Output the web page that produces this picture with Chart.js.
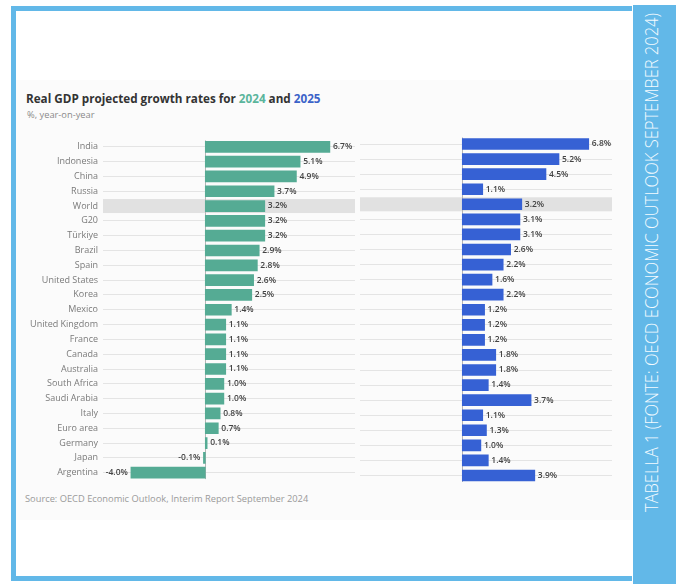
<!DOCTYPE html>
<html>
<head>
<meta charset="utf-8">
<script src="https://cdn.jsdelivr.net/npm/chart.js@4.4.1/dist/chart.umd.min.js"></script>
<style>
  html, body { margin:0; padding:0; background:#fff; }
  body { width:678px; height:585px; position:relative; overflow:hidden; font-family:"Open Sans", sans-serif; }
  #frame { position:absolute; left:11px; top:6px; width:616px; height:565px; border:5px solid #62b8e8; border-right:none; background:#fff; }
  #band { position:absolute; left:633px; top:5px; width:43px; height:579px; background:#62b8e8; }
  #bandText { position:absolute; left:0; top:0; white-space:nowrap; color:#f4fbff; font-family:"Open Sans", sans-serif; font-weight:300; font-size:18px; line-height:18px; transform-origin:0 0; }
  #chartBg { position:absolute; left:16px; top:80px; width:616px; height:440px; background:#fbfbfb; }
  #title { position:absolute; left:26px; top:90px; font-size:11.7px; font-weight:700; color:#333; white-space:nowrap; }
  #title .a { color:#5ab59c; } #title .b { color:#3b63c9; }
  #subtitle { position:absolute; left:27px; top:108px; font-size:9.3px; color:#8a8a8a; white-space:nowrap; }
  #source { position:absolute; left:25px; top:492px; font-size:9.3px; color:#9a9a9a; white-space:nowrap; }
  canvas { position:absolute; }
  #c1wrap { position:absolute; left:16px; top:128.5px; width:341px; height:361.5px; }
  #c2wrap { position:absolute; left:358px; top:128.5px; width:256px; height:361.5px; }
</style>
</head>
<body>
<div id="frame"></div>
<div id="band"><div id="bandText">TABELLA 1 (FONTE: OECD ECONOMIC OUTLOOK SEPTEMBER 2024)</div></div>
<div id="chartBg"></div>
<div id="title">Real GDP projected growth rates for <span class="a">2024</span> and <span class="b">2025</span></div>
<div id="subtitle">%, year-on-year</div>
<div id="source">Source: OECD Economic Outlook, Interim Report September 2024</div>
<div id="c1wrap"><canvas id="c1"></canvas></div>
<div id="c2wrap"><canvas id="c2"></canvas></div>
<script>
const categories = ["India","Indonesia","China","Russia","World","G20","Türkiye","Brazil","Spain","United States","Korea","Mexico","United Kingdom","France","Canada","Australia","South Africa","Saudi Arabia","Italy","Euro area","Germany","Japan","Argentina"];
const growth2024 = [6.7,5.1,4.9,3.7,3.2,3.2,3.2,2.9,2.8,2.6,2.5,1.4,1.1,1.1,1.1,1.1,1.0,1.0,0.8,0.7,0.1,-0.1,-4.0];
const growth2025 = [6.8,5.2,4.5,1.1,3.2,3.1,3.1,2.6,2.2,1.6,2.2,1.2,1.2,1.2,1.8,1.8,1.4,3.7,1.1,1.3,1.0,1.4,3.9];
const highlightCategory = "World";
const xMin = -5.5, xMax = 8.05;

const FONT = "'Open Sans', sans-serif";

const decorPlugin = {
  id: 'decor',
  beforeDatasetsDraw(chart) {
    const {ctx, chartArea, scales} = chart;
    const y = scales.y.getPixelForValue(categories.indexOf(highlightCategory));
    ctx.save();
    ctx.fillStyle = '#e1e1e1';
    ctx.fillRect(chartArea.left, y - 7, chartArea.right - chartArea.left, 14);
    const x0 = Math.round(scales.x.getPixelForValue(0)) + 0.5;
    ctx.strokeStyle = '#b5b5b5';
    ctx.lineWidth = 1;
    ctx.beginPath();
    ctx.moveTo(x0, chartArea.top + 1);
    ctx.lineTo(x0, chartArea.bottom - 1);
    ctx.stroke();
    ctx.restore();
  },
  afterDatasetsDraw(chart) {
    const {ctx} = chart;
    const meta = chart.getDatasetMeta(0);
    const data = chart.data.datasets[0].data;
    ctx.save();
    ctx.font = "600 8.5px " + FONT;
    ctx.fillStyle = '#444';
    ctx.textBaseline = 'middle';
    meta.data.forEach((bar, i) => {
      const v = data[i];
      const txt = v.toFixed(1) + '%';
      if (v >= 0) { ctx.textAlign = 'left'; ctx.fillText(txt, bar.x + 3, bar.y); }
      else { ctx.textAlign = 'right'; ctx.fillText(txt, bar.x - 3, bar.y); }
    });
    ctx.restore();
  }
};

function makeChart(id, values, color, showLabels) {
  return new Chart(document.getElementById(id), {
    type: 'bar',
    data: { labels: categories, datasets: [{ data: values, backgroundColor: color, barThickness: 11, borderWidth: 0 }] },
    options: {
      indexAxis: 'y',
      responsive: true,
      maintainAspectRatio: false,
      animation: false,
      layout: { padding: { top: 7.5, bottom: 7.5, left: showLabels ? 0 : 2, right: 2 } },
      plugins: { legend: { display: false }, tooltip: { enabled: false } },
      scales: {
        x: { display: false, min: xMin, max: xMax },
        y: {
          grid: { offset: false, color: '#e4e4e4', lineWidth: 1, drawTicks: false },
          border: { display: false },
          ticks: { display: showLabels, color: '#7a7a7a', font: { family: FONT, size: 9 }, padding: 5 },
          afterFit: (s) => { s.width = showLabels ? 87 : 0; }
        }
      }
    },
    plugins: [decorPlugin]
  });
}

makeChart('c1', growth2024, '#55ab94', true);
makeChart('c2', growth2025, '#3661d4', false);

// rotated band text
const bt = document.getElementById('bandText');
const w = bt.offsetWidth;
const targetLen = 499;
const sx = targetLen / w;
bt.style.transform = `translate(9px, 507px) rotate(-90deg) scale(${sx},1)`;
</script>
</body>
</html>
